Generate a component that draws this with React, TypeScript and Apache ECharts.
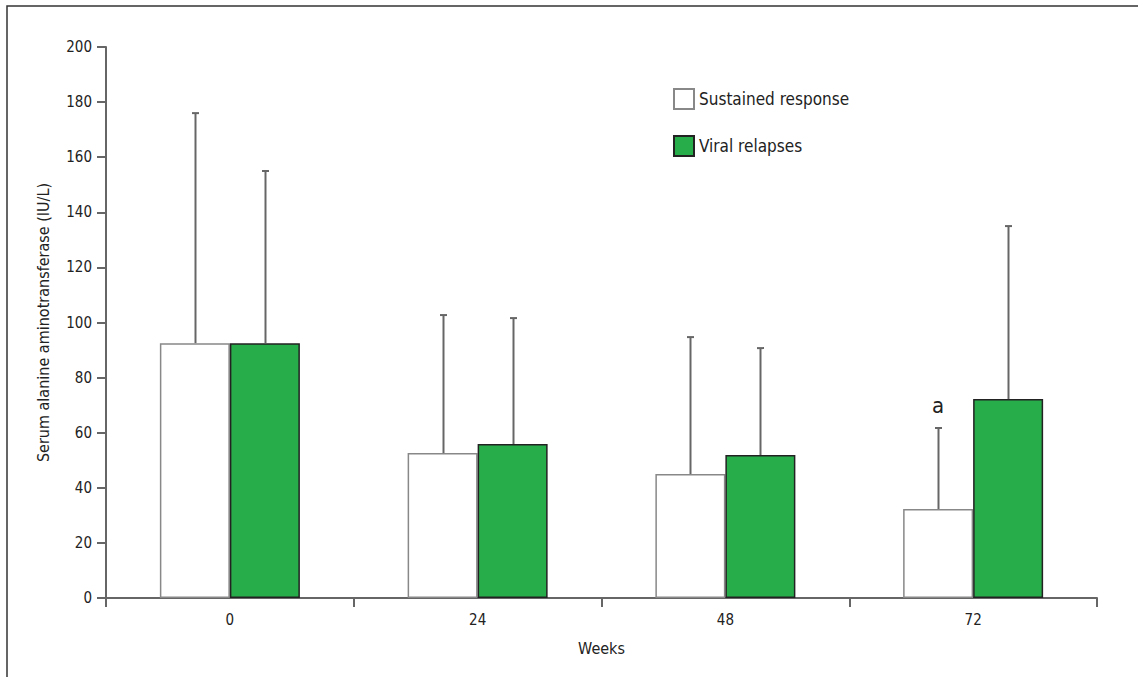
import React, { useEffect, useRef } from "react";
import * as echarts from "echarts";

const categories = ["0", "24", "48", "72"];
const sustainedMean = [92.5, 52.6, 45.0, 32.3];
const sustainedSD = [176, 102.7, 94.7, 61.7];
const relapseMean = [92.5, 55.9, 51.9, 72.2];
const relapseSD = [155, 101.6, 90.7, 135];
const annotations = [{ cat: 3, series: 0, text: "a" }];
const yTicks = [0, 20, 40, 60, 80, 100, 120, 140, 160, 180, 200];

const FONT = "'Liberation Sans Narrow', 'DejaVu Sans Condensed', 'Roboto', sans-serif";
const GREEN = "#28ad4b";
const BAR_W = 70;

export default function App() {
  const ref = useRef<HTMLDivElement>(null);
  useEffect(() => {
    const chart = echarts.init(ref.current!, undefined, { renderer: "svg" });
    const errData: any[] = [];
    categories.forEach((_, i) => {
      errData.push([i, sustainedMean[i], sustainedSD[i], 0]);
      errData.push([i, relapseMean[i], relapseSD[i], 1]);
    });
    const annoData = annotations.map((a) => [
      a.cat,
      a.series === 0 ? sustainedSD[a.cat] : relapseSD[a.cat],
      a.series,
      a.text,
    ]);
    chart.setOption({
      animation: false,
      backgroundColor: "#fff",
      textStyle: { fontFamily: FONT },
      graphic: [
        {
          type: "rect",
          shape: { x: 7, y: 6, width: 1200, height: 740 },
          style: { fill: "none", stroke: "#333", lineWidth: 1.5 },
          silent: true,
          z: -10,
        },
      ],
      grid: { left: 106, right: 41, top: 47, bottom: 79 },
      legend: {
        orient: "vertical",
        left: 673,
        top: 88,
        padding: 0,
        itemWidth: 20,
        itemHeight: 20,
        itemGap: 25,
        icon: "rect",
        textStyle: { fontSize: 17, color: "#222", fontFamily: FONT },
        data: ["Sustained response", "Viral relapses"],
      },
      xAxis: {
        type: "category",
        data: categories,
        name: "Weeks",
        nameLocation: "middle",
        nameGap: 42,
        nameTextStyle: { fontSize: 16, color: "#222", fontFamily: FONT },
        axisLine: { lineStyle: { color: "#666", width: 2 } },
        axisTick: { show: true, length: 9, alignWithLabel: false, lineStyle: { color: "#666", width: 2 } },
        axisLabel: { fontSize: 15, color: "#222", margin: 14, fontFamily: FONT },
      },
      yAxis: {
        type: "value",
        min: 0,
        max: 200,
        interval: 20,
        name: "Serum alanine aminotransferase (IU/L)",
        nameLocation: "middle",
        nameGap: 55,
        nameTextStyle: { fontSize: 16, color: "#222", fontFamily: FONT },
        axisLine: { show: true, lineStyle: { color: "#666", width: 2 } },
        axisTick: { show: true, length: 9, lineStyle: { color: "#666", width: 2 } },
        axisLabel: {
          fontSize: 15,
          color: "#222",
          margin: 14,
          fontFamily: FONT,
          formatter: (v: number) => (yTicks.includes(v) ? String(v) : ""),
        },
        splitLine: { show: false },
      },
      series: [
        {
          name: "Sustained response",
          type: "bar",
          data: sustainedMean,
          barWidth: BAR_W,
          barGap: "0%",
          itemStyle: { color: "#fff", borderColor: "#888", borderWidth: 1.5 },
          z: 2,
        },
        {
          name: "Viral relapses",
          type: "bar",
          data: relapseMean,
          barWidth: BAR_W,
          barGap: "0%",
          itemStyle: { color: GREEN, borderColor: "#222", borderWidth: 1.5 },
          z: 2,
        },
        {
          type: "custom",
          data: errData,
          z: 5,
          silent: true,
          renderItem: (params: any, api: any) => {
            const cat = api.value(0);
            const mean = api.value(1);
            const top = api.value(2);
            const s = api.value(3);
            const off = s === 0 ? -BAR_W / 2 : BAR_W / 2;
            const p0 = api.coord([cat, mean]);
            const p1 = api.coord([cat, top]);
            const x = Math.round(p0[0] + off) + 0.5;
            const style = { stroke: "#666", lineWidth: 2 };
            return {
              type: "group",
              children: [
                { type: "line", shape: { x1: x, y1: p0[1], x2: x, y2: p1[1] }, style },
                { type: "line", shape: { x1: x - 3.5, y1: p1[1], x2: x + 3.5, y2: p1[1] }, style },
              ],
            };
          },
        },
        {
          type: "custom",
          data: annoData,
          z: 6,
          silent: true,
          renderItem: (params: any, api: any) => {
            const cat = api.value(0);
            const top = api.value(1);
            const s = api.value(2);
            const off = s === 0 ? -BAR_W / 2 : BAR_W / 2;
            const p = api.coord([cat, top]);
            return {
              type: "text",
              x: p[0] + off,
              y: p[1] - 12,
              style: {
                text: annoData[params.dataIndex][3],
                fontSize: 22,
                fontFamily: FONT,
                fill: "#222",
                align: "center",
                verticalAlign: "bottom",
              },
            };
          },
        },
      ],
    });
    return () => chart.dispose();
  }, []);
  return (
    <div
      ref={ref}
      style={{ position: "fixed", left: 0, top: 0, width: 1138, height: 677 }}
    />
  );
}
